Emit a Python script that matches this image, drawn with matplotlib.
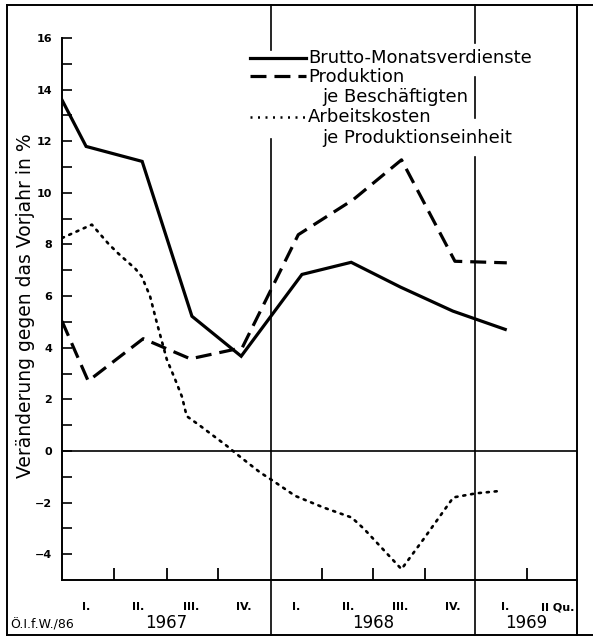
import matplotlib.pyplot as plt
import matplotlib.transforms as mtransforms

brutto_x = [-0.46, 0.0, 1.07, 2.02, 2.96, 4.12, 5.06, 6.0, 7.0, 8.0]
brutto_y = [13.6, 11.8, 11.22, 5.22, 3.67, 6.84, 7.31, 6.35, 5.42, 4.71]

prod_x = [-0.46, 0.04, 1.09, 1.99, 2.98, 4.05, 5.1, 6.02, 7.04, 8.03]
prod_y = [5.03, 2.71, 4.35, 3.57, 4.0, 8.38, 9.74, 11.28, 7.35, 7.29]

arbeit_x = [-0.46, 0.11, 0.43, 0.62, 0.94, 1.06, 1.22, 1.35, 1.54, 1.70, 1.83,
            1.92, 2.18, 2.69, 2.88, 3.32, 3.57, 3.99, 4.53, 5.07, 5.31, 6.02,
            6.44, 7.01, 7.45, 7.9]
arbeit_y = [8.25, 8.77, 8.02, 7.64, 7.06, 6.77, 6.0, 4.97, 3.55, 2.77, 2.1,
            1.35, 0.97, 0.19, -0.13, -0.83, -1.16, -1.74, -2.19, -2.58, -3.03, -4.58,
            -3.42, -1.8, -1.64, -1.55]

quartale = ['I.', 'II.', 'III.', 'IV.', 'I.', 'II.', 'III.', 'IV.', 'I.', 'II Qu.']
quartal_pos = list(range(10))
grenzen = [0.53, 1.55, 2.52, 4.5, 5.48, 6.47, 8.42]
jahre = ['1967', '1968', '1969']
jahr_pos = [1.53, 5.48, 8.40]

legende = ['Brutto-Monatsverdienste', 'Produktion', 'je Beschäftigten',
           'Arbeitskosten', 'je Produktionseinheit']

# Jahresgrenzen (Linien mit Lücken hinter der Legende)
jahr_linien = [(3.52, 17.28, 15.54), (3.52, 12.1, -7.13),
               (7.42, 17.28, 15.81), (7.42, 14.49, 12.9), (7.42, 11.4, -7.13)]

W, H = 593, 638
fig = plt.figure(figsize=(W / 100, H / 100), dpi=100)
ax = fig.add_axes([62 / W, 1 - 580 / H, 515 / W, 575 / H])
ax.patch.set_visible(False)

ax.plot(brutto_x, brutto_y, color='black', lw=2.3, solid_joinstyle='miter')
ax.plot(prod_x, prod_y, color='black', lw=2.3, dashes=(5, 2.5))
ax.plot(arbeit_x, arbeit_y, color='black', lw=1.9, linestyle=(0, (0.8, 2.2)),
        dash_capstyle='round')

ax.axhline(0, color='black', lw=1.2)
for x, y0, y1 in jahr_linien:
    ax.plot([x, x], [y0, y1], color='black', lw=1.2, clip_on=False)

ax.set_xlim(-0.46, 9.37)
ax.set_ylim(-5, 17.28)

ax.spines['top'].set_visible(False)
ax.spines['right'].set_visible(False)
ax.spines['left'].set_bounds(-5, 16)
ax.spines['left'].set_linewidth(1.4)
ax.spines['bottom'].set_linewidth(1.4)

ax.set_yticks(range(-4, 17, 2))
ax.set_yticks(range(-3, 17, 2), minor=True)
ax.tick_params(axis='y', which='both', direction='in', length=7, width=1.2,
               pad=7, labelsize=8)
for t in ax.get_yticklabels():
    t.set_fontweight('bold')

ax.set_xticks(quartal_pos, quartale)
ax.set_xticks(grenzen, minor=True)
ax.tick_params(axis='x', which='major', length=0, pad=16, labelsize=8)
ax.tick_params(axis='x', which='minor', direction='in', length=9, width=1.3)
for t in ax.get_xticklabels():
    t.set_fontweight('bold')

trans = mtransforms.blended_transform_factory(ax.transData, ax.transAxes)
for x, j in zip(jahr_pos, jahre):
    ax.text(x, -0.075, j, transform=trans, ha='center', va='center', fontsize=12)

fig.text(26 / W, 1 - 306 / H, 'Veränderung gegen das Vorjahr in %', rotation=90,
         ha='center', va='center', fontsize=13.5)
fig.text(10 / W, 1 - 625 / H, 'Ö.I.f.W./86', ha='left', va='center', fontsize=9)

# Rahmen und Legende in Pixelkoordinaten
ov = fig.add_axes([0, 0, 1, 1], zorder=3)
ov.set_xlim(0, W)
ov.set_ylim(H, 0)
ov.axis('off')
ov.plot([7, 7], [5, 635], color='black', lw=1.4)
ov.plot([577, 577], [5, 635], color='black', lw=1.4)
ov.plot([7, 593], [5, 5], color='black', lw=1.4)
ov.plot([7, 593], [635, 635], color='black', lw=1.4)

ov.plot([250, 306], [58, 58], color='black', lw=2.3)
ov.plot([250, 306], [76, 76], color='black', lw=2.3, dashes=(5, 2.5))
ov.plot([250, 306], [117, 117], color='black', lw=1.8, linestyle=(0, (0.8, 2.2)))
for txt, y in zip(legende, [58, 77, 97, 117, 138]):
    ov.text(308 if y in (58, 77, 117) else 322, y, txt, ha='left', va='center',
            fontsize=13)

fig.savefig('out.png', dpi=100)
